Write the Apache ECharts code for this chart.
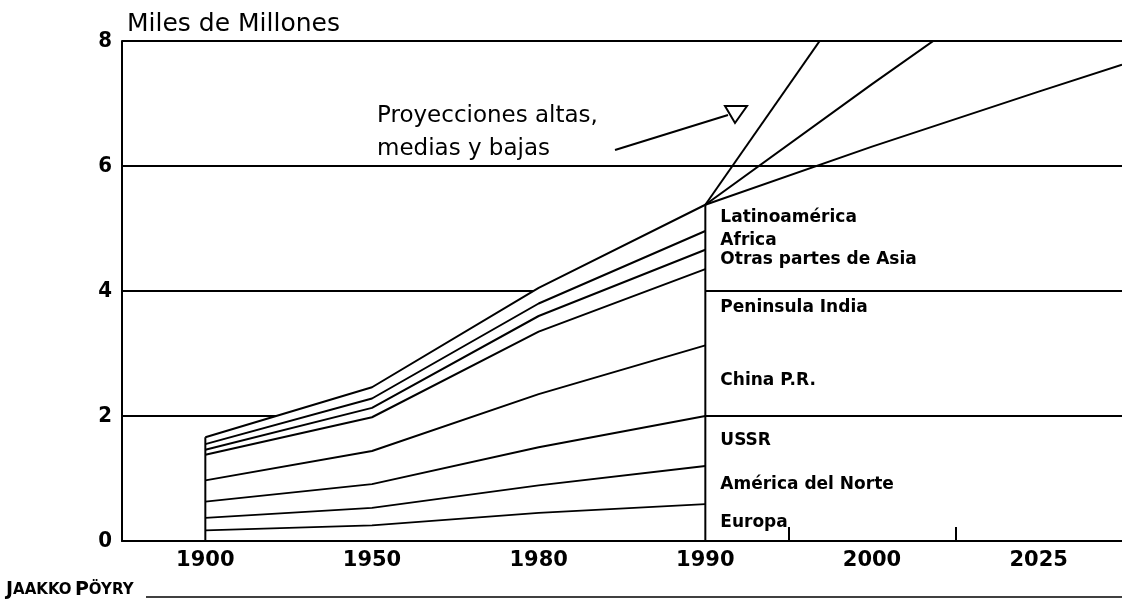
<!DOCTYPE html>
<html><head><meta charset="utf-8">
<script src="https://cdn.jsdelivr.net/npm/echarts@6/dist/echarts.min.js"></script>
<style>html,body{margin:0;padding:0;background:#fff}#c{width:1122px;height:603px}</style>
</head><body><div id="c"></div>
<script>
// ---- data (Miles de Millones) ----
const years = ['1900', '1950', '1980', '1990', '2000', '2025'];
const histYears = ['1900', '1950', '1980', '1990'];
const regions = ['Europa', 'América del Norte', 'USSR', 'China P.R.', 'Peninsula India', 'Otras partes de Asia', 'Africa', 'Latinoamérica'];
const europa       = [0.17, 0.25, 0.45, 0.59];
const americaNorte = [0.20, 0.28, 0.44, 0.61];
const ussr         = [0.26, 0.38, 0.61, 0.80];
const china        = [0.34, 0.53, 0.85, 1.13];
const india        = [0.41, 0.54, 1.00, 1.22];
const otrasAsia    = [0.08, 0.15, 0.25, 0.31];
const africa       = [0.09, 0.15, 0.20, 0.30];
const latino       = [0.11, 0.18, 0.25, 0.42];
const projAltaYears = ['2000'];
const projAlta      = [9.2];
const projMediaYears = ['2000', '2025'];
const projMedia      = [7.31, 9.19];
const projBajaYears = ['2000', '2025'];
const projBaja      = [6.31, 7.19];
const projBajaEdge  = 7.62;   // low projection where it leaves the frame
const yTicks = [0, 2, 4, 6, 8];

// ---- build ----
const regionData = [europa, americaNorte, ussr, china, india, otrasAsia, africa, latino];
const slot = y => years.indexOf(y) + 0.5;
const cum = [];
regionData.forEach((arr, k) => cum.push(arr.map((v, i) => v + (k ? cum[k - 1][i] : 0))));
const totals = cum[cum.length - 1];
const last = histYears.length - 1;
const black = { color: '#000', width: 2 };
const series = [];
series.push({ type: 'line', z: 1, silent: true, symbol: 'none',
  data: histYears.map((y, i) => [slot(y), totals[i]]),
  lineStyle: { width: 0 }, areaStyle: { color: '#fff', opacity: 1 } });
regions.forEach((name, k) => series.push({ name, type: 'line', z: 3, symbol: 'none', silent: true,
  data: histYears.map((y, i) => [slot(y), cum[k][i]]), lineStyle: black }));
[0, last].forEach(i => series.push({ type: 'line', z: 3, symbol: 'none', silent: true,
  data: [[slot(histYears[i]), 0], [slot(histYears[i]), totals[i]]], lineStyle: black }));
const start = [slot(histYears[last]), totals[last]];
series.push({ type: 'line', z: 3, symbol: 'none', silent: true, lineStyle: black,
  data: [start].concat(projAltaYears.map((y, i) => [slot(y), projAlta[i]])) });
series.push({ type: 'line', z: 3, symbol: 'none', silent: true, lineStyle: black,
  data: [start].concat(projMediaYears.map((y, i) => [slot(y), projMedia[i]])) });
series.push({ type: 'line', z: 3, symbol: 'none', silent: true, lineStyle: black,
  data: [start].concat(projBajaYears.map((y, i) => [slot(y), projBaja[i]]), [[years.length, projBajaEdge]]) });
series.push({ type: 'scatter', z: 4, symbolSize: 0, silent: true,
  itemStyle: { opacity: 1, color: '#000' },
  data: regions.map((name, k) => ({ name, value: [slot(histYears[last]), cum[k][last] - regionData[k][last] / 2] })),
  label: { show: true, position: 'right', distance: 15, formatter: '{b}', color: '#000', opacity: 1,
    fontSize: 17, fontWeight: 'bold', fontFamily: 'DejaVu Sans' } });

const chart = echarts.init(document.getElementById('c'), null, { renderer: 'canvas' });
chart.setOption({
  animation: false,
  backgroundColor: '#fff',
  grid: { left: 122, right: -4, top: 41, bottom: 62 },
  xAxis: {
    type: 'value', min: 0, max: years.length, z: 5,
    axisLine: { show: true, lineStyle: black },
    axisTick: { show: true, inside: true, length: 14, lineStyle: black, customValues: [4, 5] },
    axisLabel: { customValues: years.map((y, i) => i + 0.5), formatter: v => years[Math.round(v - 0.5)],
      color: '#000', fontSize: 21, fontWeight: 'bold', fontFamily: 'DejaVu Sans', margin: 9 },
    splitLine: { show: false }
  },
  yAxis: {
    type: 'value', min: yTicks[0], max: yTicks[yTicks.length - 1], interval: 2,
    axisLine: { show: true, lineStyle: black },
    axisTick: { show: false },
    axisLabel: { color: '#000', fontSize: 22, fontWeight: 'bold', fontFamily: 'Liberation Sans Narrow, DejaVu Sans Condensed, DejaVu Sans', margin: 10 },
    splitLine: { show: true, lineStyle: black }
  },
  graphic: [
    { type: 'text', left: 127, top: 12, style: { text: 'Miles de Millones', fontSize: 25, fontFamily: 'DejaVu Sans', fill: '#000' } },
    { type: 'text', left: 377, top: 100, style: { text: 'Proyecciones altas,\nmedias y bajas', fontSize: 23, lineHeight: 33, fontFamily: 'DejaVu Sans', fill: '#000' } },
    { type: 'line', shape: { x1: 615, y1: 150, x2: 728, y2: 115 }, style: { stroke: '#000', lineWidth: 2 } },
    { type: 'polygon', shape: { points: [[725, 106], [747, 106], [735, 123]] }, style: { stroke: '#000', lineWidth: 2, fill: 'none' } },
    { type: 'text', left: 6, top: 581, style: {
      rich: { b: { fontSize: 19, fontWeight: 'bold', fontFamily: 'DejaVu Sans', fill: '#000' },
              s: { fontSize: 15, fontWeight: 'bold', fontFamily: 'DejaVu Sans', fill: '#000' } },
      text: '{b|J}{s|AAKKO} {b|P}{s|ÖYRY}' } },
    { type: 'line', shape: { x1: 146, y1: 597, x2: 1122, y2: 597 }, style: { stroke: '#000', lineWidth: 1.5 } }
  ],
  series
});
</script></body></html>
